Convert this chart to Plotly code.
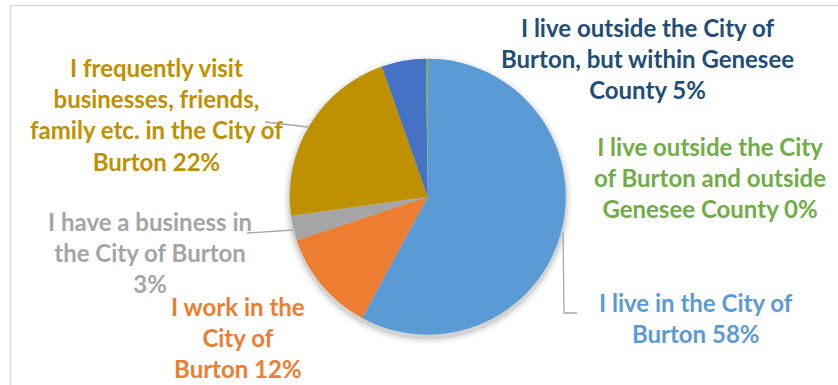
import plotly.graph_objects as go

# Survey answers, in the order Excel draws them (clockwise from 12 o'clock).
labels = [
    "I live in the City of Burton",
    "I work in the City of Burton",
    "I have a business in the City of Burton",
    "I frequently visit businesses, friends, family etc. in the City of Burton",
    "I live outside the City of Burton, but within Genesee County",
    "I live outside the City of Burton and outside Genesee County",
]
shares = [57.9, 12.0, 2.9, 21.8, 5.2, 0.2]
shown_pct = ["58%", "12%", "3%", "22%", "5%", "0%"]

# Label text broken the way the source chart wraps it.
wrapped = [
    "I live in the City of<br>Burton",
    "I work in the<br>City of<br>Burton",
    "I have a business in<br>the City of Burton<br>",
    "I frequently visit<br>businesses, friends,<br>family etc. in the City of<br>Burton",
    "I live outside the City of<br>Burton, but within Genesee<br>County",
    "I live outside the City<br>of Burton and outside<br>Genesee County",
]

COLORS = ["#5B9BD5", "#ED7D31", "#A5A5A5", "#BF9000", "#4472C4", "#70AD47"]
TEXT_COLORS = ["#5B9BD5", "#ED7D31", "#A5A5A5", "#BF9000", "#1F4E79", "#70AD47"]

W, H = 838, 385
CX, CY, R = 427.7, 196.7, 138

# label centres in pixels (x, y from top)
LABEL_POS = [(696, 318), (238, 337), (150, 252), (156, 114), (647, 59), (710, 177)]
LEADERS = [
    [(563, 232), (564, 313), (577, 313)],
    None,
    [(293, 230), (247, 233)],
    [(308, 127), (265, 122)],
    None,
    None,
]

FONT = "Lato, 'Open Sans', sans-serif"


def px(x):
    return x / W


def py(y):
    return 1 - y / H


fig = go.Figure(go.Pie(
    labels=labels,
    values=shares,
    sort=False,
    direction="clockwise",
    rotation=0,
    marker=dict(colors=COLORS, line=dict(width=0)),
    textinfo="none",
    hoverinfo="label+percent",
    showlegend=False,
    domain=dict(x=[px(CX - R), px(CX + R)], y=[py(CY + R), py(CY - R)]),
))

shapes = [
    # outer chart frame
    dict(type="rect", xref="paper", yref="paper",
         x0=px(10.5), x1=px(W + 5), y0=py(H + 5), y1=py(5.5),
         line=dict(color="#D9D9D9", width=1.5), fillcolor="rgba(0,0,0,0)", layer="below"),
]
# soft drop shadow around the pie
for grow, alpha in [(7, 0.025), (5, 0.035), (3, 0.05), (1.5, 0.07)]:
    shapes.append(dict(
        type="circle", xref="paper", yref="paper",
        x0=px(CX - R - grow), x1=px(CX + R + grow),
        y0=py(CY + 3 + R + grow), y1=py(CY + 3 - R - grow),
        line=dict(width=0), fillcolor=f"rgba(0,0,0,{alpha})", layer="below",
    ))
for pts in LEADERS:
    if not pts:
        continue
    path = "M " + " L ".join(f"{px(x)} {py(y)}" for x, y in pts)
    shapes.append(dict(type="path", xref="paper", yref="paper", path=path,
                       line=dict(color="#A6A6A6", width=1.3)))

annotations = []
for txt, pct, color, (x, y) in zip(wrapped, shown_pct, TEXT_COLORS, LABEL_POS):
    sep = "" if txt.endswith("<br>") else " "
    annotations.append(dict(
        text=f"<b>{txt}{sep}{pct}</b>",
        x=px(x), y=py(y), xref="paper", yref="paper",
        xanchor="center", yanchor="middle", align="center",
        showarrow=False,
        font=dict(family=FONT, size=24, color=color),
    ))

fig.update_layout(
    width=W, height=H,
    margin=dict(l=0, r=0, t=0, b=0),
    paper_bgcolor="white",
    plot_bgcolor="white",
    shapes=shapes,
    annotations=annotations,
)

# the page's default 8px body margin would push the figure off the window
fig.write_html(
    "out.html",
    config={"displayModeBar": False},
    post_script="document.body.style.margin = '0';",
)
